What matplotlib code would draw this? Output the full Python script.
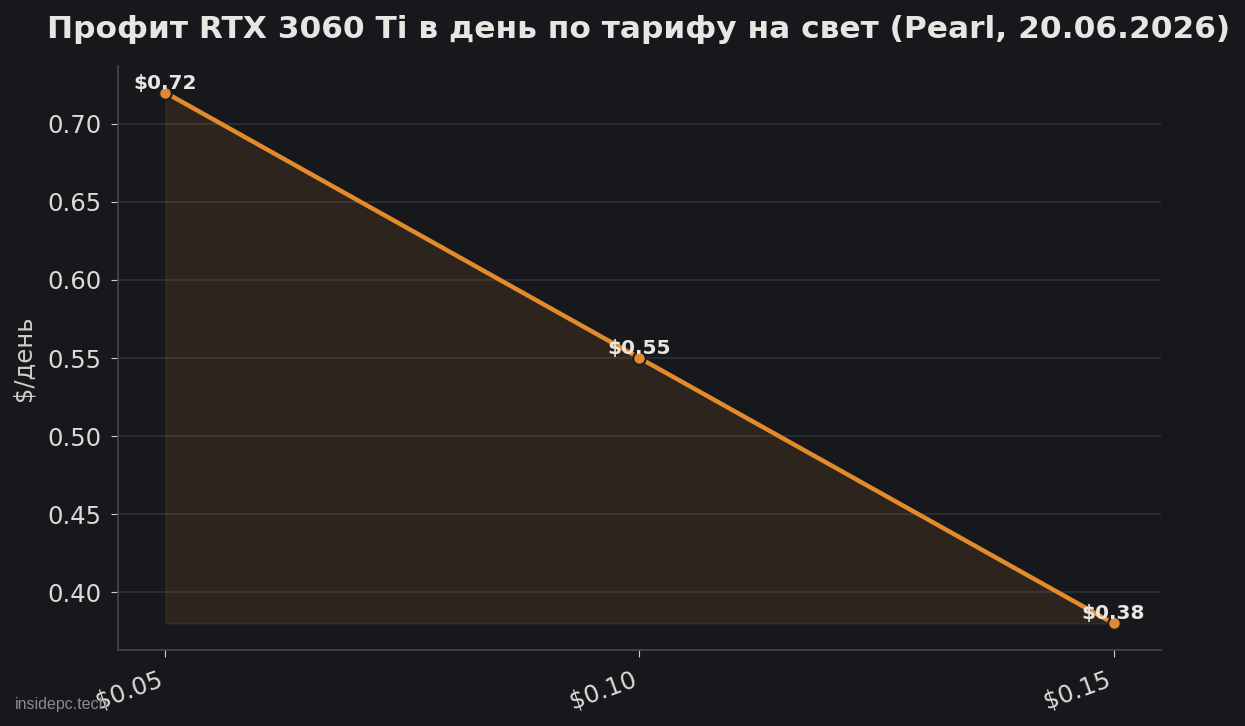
import matplotlib
matplotlib.use('Agg')
import matplotlib.pyplot as plt

# Data
tariffs = ["$0.05", "$0.10", "$0.15"]
profit = [0.72, 0.55, 0.38]

BG = "#17181c"
TXT = "#e8e6e3"
ORANGE = "#e38b2c"

fig = plt.figure(figsize=(12.45, 7.26), dpi=100, facecolor=BG)
ax = fig.add_axes([0.0948, 0.1047, 0.8377, 0.8043], facecolor=BG)

x = list(range(len(tariffs)))
ax.fill_between(x, profit, min(profit), color=ORANGE, alpha=0.11, zorder=1)
ax.plot(x, profit, color=ORANGE, linewidth=3.2, marker="o", markersize=9,
        markeredgecolor="#1c1d20", markeredgewidth=1.5, zorder=3)

for xi, v in zip(x, profit):
    ax.annotate(f"${v:.2f}", (xi, v), xytext=(0, 0), textcoords="offset points",
                ha="center", va="bottom", color=TXT, fontsize=14.5,
                fontweight="bold", zorder=4)

ax.set_xticks(x)
ax.set_xticklabels(tariffs, rotation=20, ha="right")
ax.set_xlim(-0.1, 2.1)
ax.set_ylabel("$/день", color="#cfcdca", fontsize=17.5, labelpad=8)
fig.suptitle("Профит RTX 3060 Ti в день по тарифу на свет (Pearl, 20.06.2026)",
             color=TXT, fontsize=22.5, fontweight="bold", x=0.513, y=0.979)

ax.grid(axis="y", color="#2f3034", linewidth=1.2)
ax.set_axisbelow(True)
ax.tick_params(colors="#cfcdca", labelsize=17.5, length=5, pad=7)
for s in ["top", "right"]:
    ax.spines[s].set_visible(False)
for s in ["left", "bottom"]:
    ax.spines[s].set_color("#46484d")
    ax.spines[s].set_linewidth(1.2)

for lbl in ax.get_xticklabels() + ax.get_yticklabels():
    lbl.set_color("#dcdad6")

fig.text(0.012, 0.023, "insidepc.tech", color="#8a8a8a", fontsize=11.5,
         family="Liberation Sans")

fig.savefig("out.png", dpi=100, facecolor=BG)
